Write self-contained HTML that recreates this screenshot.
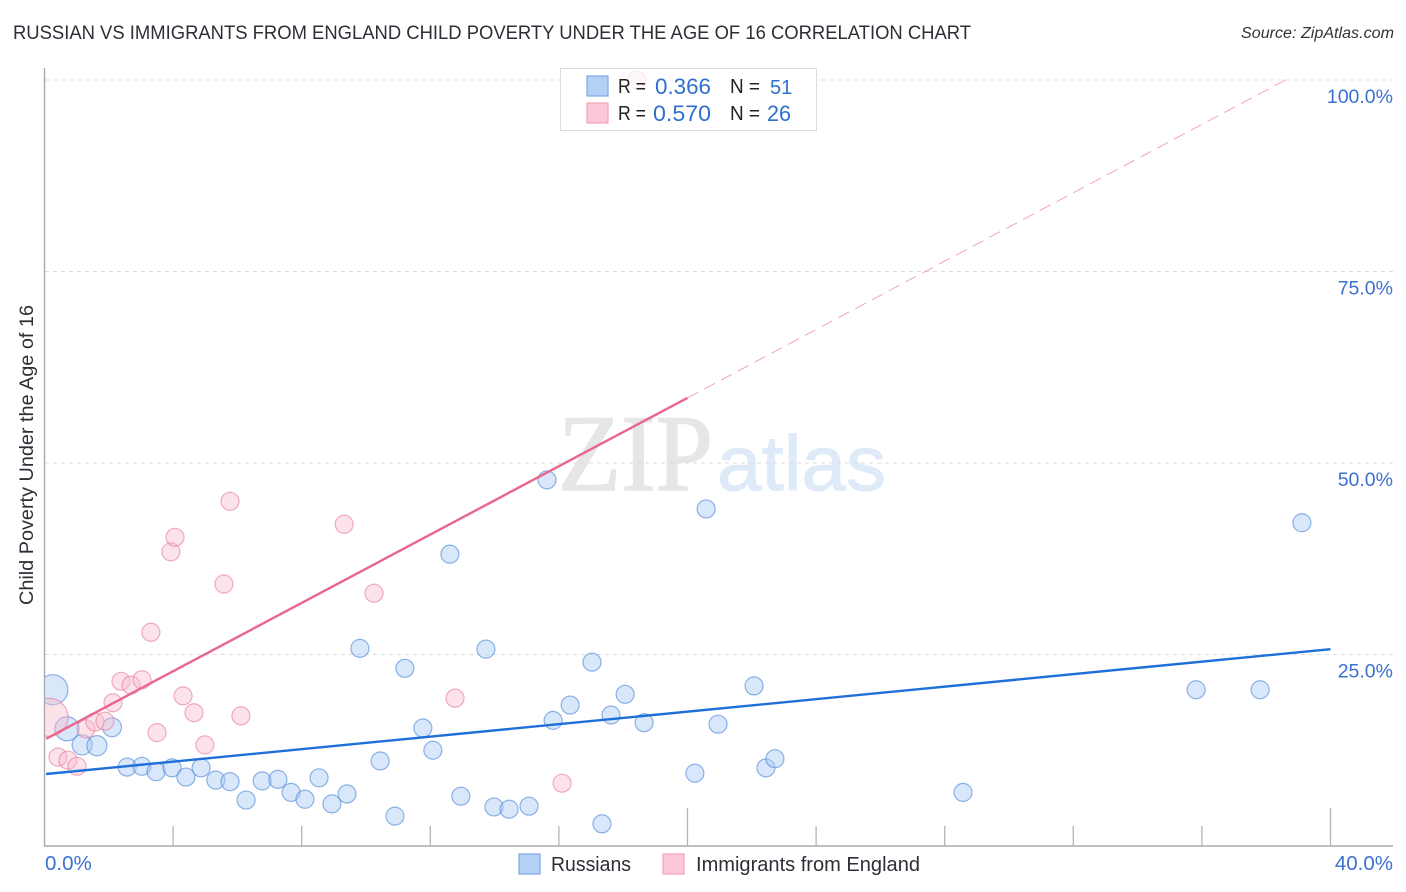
<!DOCTYPE html>
<html lang="en">
<head>
<meta charset="utf-8">
<title>Russian vs Immigrants from England Child Poverty Correlation Chart</title>
<style>
html,body{margin:0;padding:0;background:#fff;width:1406px;height:892px;overflow:hidden}
svg{display:block;font-family:"Liberation Sans",sans-serif}
</style>
</head>
<body>
<svg id="chart" width="1406" height="892" viewBox="0 0 1406 892" xmlns="http://www.w3.org/2000/svg">
  <defs><clipPath id="plot-clip"><rect x="45" y="60" width="1350" height="786"/></clipPath></defs>
  <text x="13" y="39" font-size="19.5" fill="#2b2f36" textLength="958" lengthAdjust="spacingAndGlyphs">RUSSIAN VS IMMIGRANTS FROM ENGLAND CHILD POVERTY UNDER THE AGE OF 16 CORRELATION CHART</text>
  <text x="1241" y="38" font-size="15.5" font-style="italic" fill="#333" textLength="153" lengthAdjust="spacingAndGlyphs">Source: ZipAtlas.com</text>
  <g>
    <text x="558" y="490" font-size="109" fill="#e6e6e6" stroke="#e6e6e6" stroke-width="1.4" textLength="155" lengthAdjust="spacingAndGlyphs" style="font-family:'Liberation Serif',serif">ZIP</text>
    <text x="717" y="490" font-size="78" fill="#dfeaf8" stroke="#dfeaf8" stroke-width="1" textLength="169" lengthAdjust="spacingAndGlyphs">atlas</text>
  </g>
  <g id="grid"></g>
  <g id="axes"></g>
  <g id="blue-points" clip-path="url(#plot-clip)"></g>
  <g id="pink-points" clip-path="url(#plot-clip)"></g>
  <g id="trends"></g>
  <text transform="translate(33,455) rotate(-90)" font-size="19" fill="#2b2f36" text-anchor="middle" textLength="300" lengthAdjust="spacingAndGlyphs">Child Poverty Under the Age of 16</text>
  <g id="labels"></g>

  <g>
    <rect x="560.5" y="68.5" width="256" height="62" fill="#fff" fill-opacity="0.72" stroke="#dcdcdc" stroke-width="1"/>
    <rect x="587" y="76" width="21" height="20" fill="#b5d0f5" stroke="#7ea6e0" stroke-width="1.2"/>
    <rect x="587" y="103" width="21" height="20" fill="#fcc8d8" stroke="#f0a4bd" stroke-width="1.2"/>
    <g font-size="20" fill="#222">
      <text x="618" y="93" textLength="28" lengthAdjust="spacingAndGlyphs">R =</text>
      <text x="730" y="93" textLength="30" lengthAdjust="spacingAndGlyphs">N =</text>
      <text x="618" y="120" textLength="28" lengthAdjust="spacingAndGlyphs">R =</text>
      <text x="730" y="120" textLength="30" lengthAdjust="spacingAndGlyphs">N =</text>
    </g>
    <g font-size="22" fill="#2f6fd0">
      <text x="655" y="94" textLength="56" lengthAdjust="spacingAndGlyphs">0.366</text>
      <text x="770" y="94" font-size="20">51</text>
      <text x="653" y="121" textLength="58" lengthAdjust="spacingAndGlyphs">0.570</text>
      <text x="767" y="121" textLength="24" lengthAdjust="spacingAndGlyphs">26</text>
    </g>
  </g>

  <g>
    <g>
      <rect x="519" y="854" width="21" height="20" fill="#b5d0f5" stroke="#7ea6e0" stroke-width="1.2"/>
      <text x="551" y="871" font-size="20" fill="#2b2f36" textLength="80" lengthAdjust="spacingAndGlyphs">Russians</text>
    </g>
    <g>
      <rect x="663" y="854" width="21" height="20" fill="#fcc8d8" stroke="#f0a4bd" stroke-width="1.2"/>
      <text x="696" y="871" font-size="20" fill="#2b2f36" textLength="224" lengthAdjust="spacingAndGlyphs">Immigrants from England</text>
    </g>
  </g>
</svg>
<script>
// Chart data (percent values)
const yTickValues = [25, 50, 75, 100];
const yTickLabels = ["25.0%", "50.0%", "75.0%", "100.0%"];
const xTickValues = [4, 8, 12, 16, 20, 24, 28, 32, 36, 40];
const xMajorTicks = [20, 40];
const xEndValues = [0, 40];
const xEndLabels = ["0.0%", "40.0%"];

const russiansX = [0.26,0.70,1.17,1.63,2.10,2.57,3.03,3.47,3.97,4.40,4.87,5.33,5.77,6.27,6.77,7.26,7.67,8.10,8.54,8.94,9.41,9.81,10.44,10.90,11.21,11.77,12.08,12.61,12.95,13.73,13.98,14.45,15.07,15.63,15.82,16.35,17.03,17.34,17.62,18.06,18.65,20.23,20.58,20.95,22.07,22.44,22.72,28.57,35.82,37.81,39.11];
const russiansY = [20.4,15.3,13.2,13.1,15.5,10.3,10.4,9.7,10.2,9.0,10.2,8.6,8.4,6.0,8.5,8.7,7.0,6.1,8.9,5.5,6.8,25.8,11.1,3.9,23.2,15.4,12.5,38.1,6.5,25.7,5.1,4.8,5.2,47.8,16.4,18.4,24.0,2.9,17.1,19.8,16.1,9.5,44.0,15.9,20.9,10.2,11.4,7.0,20.4,20.4,42.2];
const russiansWeight = [2.8,1.8,1.25,1.25,1.1,1,1,1,1,1,1,1,1,1,1,1,1,1,1,1,1,1,1,1,1,1,1,1,1,1,1,1,1,1,1,1,1,1,1,1,1,1,1,1,1,1,1,1,1,1,1];

const immigrantsX = [0.14,0.42,0.73,1.01,1.29,1.57,1.88,2.13,2.38,2.69,3.03,3.31,3.50,3.93,4.06,4.31,4.65,4.99,5.58,5.77,6.11,9.32,10.25,12.77,16.10,18.43];
const immigrantsY = [16.8,11.6,11.2,10.4,15.3,16.2,16.3,18.7,21.5,21.0,21.7,27.9,14.8,38.4,40.3,19.6,17.4,13.2,34.2,45.0,17.0,42.0,33.0,19.3,8.2,100];
const immigrantsWeight = [4.5,1,1,1,1,1,1,1,1,1,1,1,1,1,1,1,1,1,1,1,1,1,1,1,1,1];

const russiansTrendX = [0.05, 40];
const russiansTrendY = [9.4, 25.7];
const immigrantsTrendX = [0.05, 20];
const immigrantsTrendY = [14.0, 58.5];
const immigrantsExtX = [20, 38.6];
const immigrantsExtY = [58.5, 100];

// Axis functions
const xScale = v => 44.5 + v * 32.15;
const yScale = v => 846 - v * 7.66;
const radius = w => 9 * Math.sqrt(w);

const NS = "http://www.w3.org/2000/svg";
function make(tag, parent, attrs) {
  const el = document.createElementNS(NS, tag);
  for (const k in attrs) el.setAttribute(k, attrs[k]);
  parent.appendChild(el);
  return el;
}

// Gridlines
const grid = document.getElementById("grid");
yTickValues.forEach(v => {
  const l = make("line", grid, {x1: 45, x2: 1393, y1: yScale(v), y2: yScale(v), stroke: "#dcdcdc", "stroke-width": 1, "stroke-dasharray": "4 4"});
  
  
});

// Axes and ticks
const axes = document.getElementById("axes");
const yAxis = make("line", axes, {x1: 44.5, x2: 44.5, y1: 68, y2: 846.5, stroke: "#aaa", "stroke-width": 1.4});


const xAxis = make("line", axes, {x1: 44, x2: 1393, y1: 846, y2: 846, stroke: "#aaa", "stroke-width": 1.4});


xTickValues.forEach(v => {
  const len = xMajorTicks.includes(v) ? 38 : 20;
  const t = make("line", axes, {x1: xScale(v), x2: xScale(v), y1: 846, y2: 846 - len, stroke: "#b4b4b4", "stroke-width": 1.3});
  
  
});

// Tick labels
const labels = document.getElementById("labels");
yTickValues.forEach((v, i) => {
  const t = make("text", labels, {x: 1393, y: yScale(v) + 23, "font-size": 19.5, fill: "#3b70d2", "text-anchor": "end"});
  t.textContent = yTickLabels[i];
  
  
});
xEndValues.forEach((v, i) => {
  const first = i === 0;
  const t = make("text", labels, {x: first ? xScale(v) + 0.5 : 1393, y: 870, "font-size": 20.5, fill: "#3b70d2", "text-anchor": first ? "start" : "end"});
  t.textContent = xEndLabels[i];
  
  
});

// Points
const bluePts = document.getElementById("blue-points");
russiansX.forEach((v, i) => {
  const c = make("circle", bluePts, {cx: xScale(v), cy: yScale(russiansY[i]), r: radius(russiansWeight[i]), fill: "#a9c9f3", "fill-opacity": 0.45, stroke: "#4d86d8", "stroke-opacity": 0.62, "stroke-width": 1.2});
  
  
});
const pinkPts = document.getElementById("pink-points");
immigrantsX.forEach((v, i) => {
  const c = make("circle", pinkPts, {cx: xScale(v), cy: yScale(immigrantsY[i]), r: radius(immigrantsWeight[i]), fill: "#f8bccd", "fill-opacity": 0.42, stroke: "#e57d9f", "stroke-opacity": 0.62, "stroke-width": 1.2});
  
  
});

// Trend lines
const trends = document.getElementById("trends");
const ext = make("line", trends, {x1: xScale(immigrantsExtX[0]), y1: yScale(immigrantsExtY[0]), x2: xScale(immigrantsExtX[1]), y2: yScale(immigrantsExtY[1]), stroke: "#e9759b", "stroke-opacity": 0.65, "stroke-width": 1, "stroke-dasharray": "12 7"});


const pinkLine = make("line", trends, {x1: xScale(immigrantsTrendX[0]), y1: yScale(immigrantsTrendY[0]), x2: xScale(immigrantsTrendX[1]), y2: yScale(immigrantsTrendY[1]), stroke: "#e8668f", "stroke-width": 2.4});


const blueLine = make("line", trends, {x1: xScale(russiansTrendX[0]), y1: yScale(russiansTrendY[0]), x2: xScale(russiansTrendX[1]), y2: yScale(russiansTrendY[1]), stroke: "#1f6fd8", "stroke-width": 2.4});


</script>
</body>
</html>
